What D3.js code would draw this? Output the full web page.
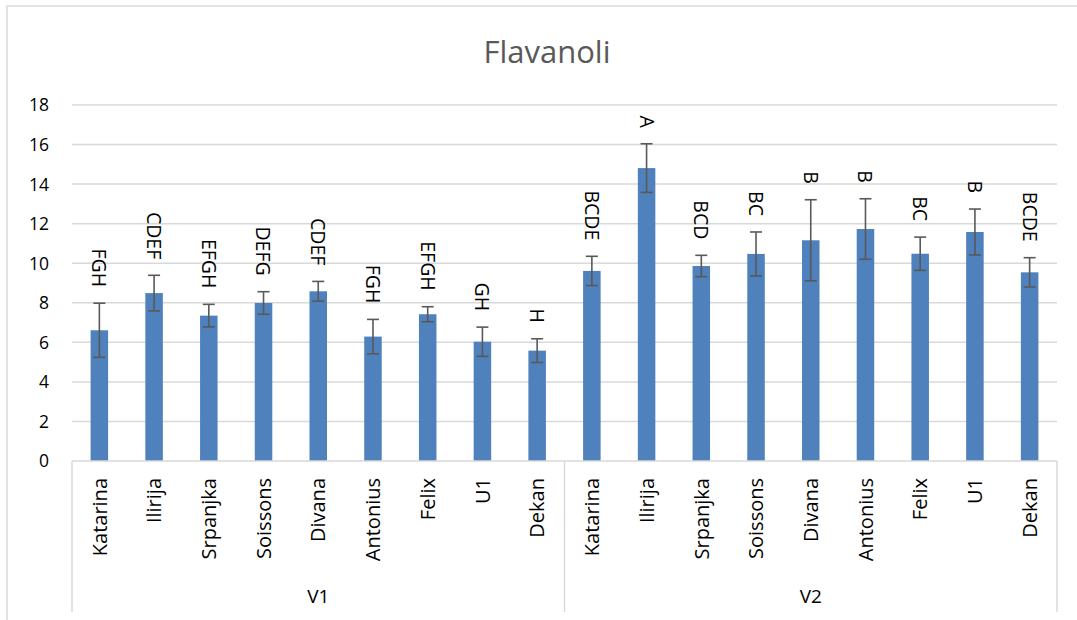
<!DOCTYPE html>
<html><head><meta charset="utf-8">
<script src="https://cdn.jsdelivr.net/npm/d3@7"></script>
<style>body{margin:0;background:#fff}svg{display:block}</style>
</head><body>
<script>
const groups = ["V1", "V2"];
const cultivars = ["Katarina","Ilirija","Srpanjka","Soissons","Divana","Antonius","Felix","U1","Dekan"];
const valuesV1 = [6.61, 8.49, 7.35, 7.99, 8.58, 6.29, 7.42, 6.03, 5.58];
const valuesV2 = [9.61, 14.81, 9.86, 10.47, 11.16, 11.73, 10.48, 11.58, 9.54];
const errorsV1 = [1.37, 0.90, 0.57, 0.57, 0.50, 0.87, 0.38, 0.74, 0.60];
const errorsV2 = [0.74, 1.23, 0.54, 1.11, 2.05, 1.53, 0.84, 1.16, 0.74];
const lettersV1 = ["FGH","CDEF","EFGH","DEFG","CDEF","FGH","EFGH","GH","H"];
const lettersV2 = ["BCDE","A","BCD","BC","B","B","BC","B","BCDE"];
const yTicks = [0,2,4,6,8,10,12,14,16,18];
const title = "Flavanoli";

const data = [];
groups.forEach((g, gi) => cultivars.forEach((c, ci) => data.push({
  group: g, name: c, key: g + "|" + c,
  value: gi === 0 ? valuesV1[ci] : valuesV2[ci],
  err: gi === 0 ? errorsV1[ci] : errorsV2[ci],
  letter: gi === 0 ? lettersV1[ci] : lettersV2[ci]
})));

const W = 1077, H = 620;
const L = 72, R = 1057, T = 105, B = 461, catBottom = 612;
const svg = d3.select("body").append("svg").attr("width", W).attr("height", H);

svg.append("rect").attr("x", 7).attr("y", 6).attr("width", W + 10).attr("height", H + 10)
  .attr("fill", "none").attr("stroke", "#d9d9d9").attr("stroke-width", 1.5);

const y = d3.scaleLinear().domain([0, 18]).range([B, T]);
const x = d3.scaleBand().domain(data.map(d => d.key)).range([L, R]).paddingInner(0.68).paddingOuter(0.34);
const xg = d3.scaleBand().domain(groups).range([L, R]);

// gridlines
svg.append("g").selectAll("line").data(yTicks.filter(t => t > 0)).join("line")
  .attr("x1", L).attr("x2", R).attr("y1", d => y(d)).attr("y2", d => y(d))
  .attr("stroke", "#d9d9d9").attr("stroke-width", 1.5);

// y axis labels
const yAxis = d3.axisLeft(y).tickValues(yTicks).tickSize(0).tickPadding(0);
const ya = svg.append("g").attr("transform", `translate(49,0)`).call(yAxis);
ya.select(".domain").remove();
ya.selectAll("text").attr("font-family", "Open Sans").attr("font-size", 17.5).attr("fill", "#000").attr("dy", "0.34em");

// bars
svg.append("g").selectAll("rect").data(data).join("rect")
  .attr("x", d => x(d.key)).attr("width", x.bandwidth())
  .attr("y", d => y(d.value)).attr("height", d => y(0) - y(d.value))
  .attr("fill", "#4f81bd");

// error bars
const eb = svg.append("g").attr("stroke", "#595959").attr("stroke-width", 1.6);
data.forEach(d => {
  const cx = x(d.key) + x.bandwidth() / 2;
  eb.append("line").attr("x1", cx).attr("x2", cx).attr("y1", y(d.value + d.err)).attr("y2", y(d.value - d.err));
  eb.append("line").attr("x1", cx - 6).attr("x2", cx + 6).attr("y1", y(d.value + d.err)).attr("y2", y(d.value + d.err));
  eb.append("line").attr("x1", cx - 6).attr("x2", cx + 6).attr("y1", y(d.value - d.err)).attr("y2", y(d.value - d.err));
});

// letters (rotated clockwise)
svg.append("g").selectAll("text").data(data).join("text")
  .attr("transform", d => `translate(${x(d.key) + x.bandwidth() / 2},${y(d.value + d.err) - 16}) rotate(90)`)
  .attr("text-anchor", "end").attr("dy", "0.36em")
  .attr("font-family", "Open Sans").attr("font-size", 19.5).attr("fill", "#000")
  .text(d => d.letter);

// category axis lines
svg.append("line").attr("x1", L).attr("x2", R).attr("y1", B).attr("y2", B).attr("stroke", "#d9d9d9").attr("stroke-width", 1.5);
svg.append("g").selectAll("line").data([L, xg("V2"), R]).join("line")
  .attr("x1", d => d).attr("x2", d => d).attr("y1", B).attr("y2", catBottom)
  .attr("stroke", "#d9d9d9").attr("stroke-width", 1.5);

// cultivar labels (rotated counter-clockwise)
svg.append("g").selectAll("text").data(data).join("text")
  .attr("transform", d => `translate(${x(d.key) + x.bandwidth() / 2},478) rotate(-90)`)
  .attr("text-anchor", "end").attr("dy", "0.36em")
  .attr("font-family", "Open Sans").attr("font-size", 20).attr("fill", "#000")
  .text(d => d.name);

// group labels
svg.append("g").selectAll("text").data(groups).join("text")
  .attr("x", d => xg(d) + xg.bandwidth() / 2).attr("y", 603)
  .attr("text-anchor", "middle").attr("font-family", "Open Sans").attr("font-size", 19).attr("fill", "#000")
  .text(d => d);

// title
svg.append("text").attr("x", 547).attr("y", 63).attr("text-anchor", "middle")
  .attr("font-family", "Open Sans").attr("font-size", 31).attr("fill", "#595959").text(title);
</script>
</body></html>
